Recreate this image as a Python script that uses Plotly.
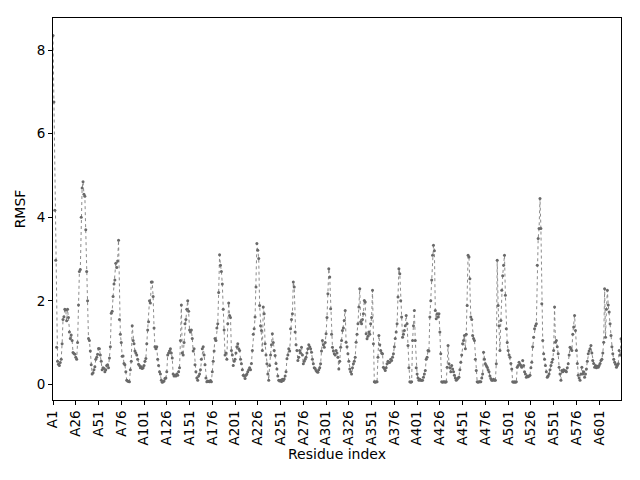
import plotly.graph_objects as go

# RMSF per residue (chain A)
rmsf = [
    8.35, 6.76, 4.17, 2.97, 0.89, 0.55, 0.48, 0.45, 0.52, 0.60,
    0.97, 1.55, 1.62, 1.80, 1.78, 1.52, 1.80, 1.60, 1.25, 1.10,
    1.18, 1.05, 0.76, 0.74, 0.72, 0.65, 0.60, 1.00, 1.90, 2.70,
    2.75, 4.00, 4.70, 4.85, 4.55, 4.50, 3.70, 2.70, 2.00, 1.10,
    1.05, 0.80, 0.47, 0.25, 0.28, 0.35, 0.42, 0.60, 0.65, 0.72,
    0.86, 0.85, 0.70, 0.55, 0.35, 0.40, 0.38, 0.30, 0.35, 0.45,
    0.47, 0.40, 0.63, 0.90, 1.70, 1.75, 2.10, 2.40, 2.50, 2.90,
    2.80, 2.95, 3.45, 1.55, 1.20, 1.00, 0.67, 0.68, 0.50, 0.47,
    0.30, 0.10, 0.08, 0.07, 0.06, 0.35, 0.55, 1.40, 1.05, 0.97,
    0.80, 0.75, 0.70, 0.60, 0.48, 0.45, 0.40, 0.42, 0.38, 0.40,
    0.45, 0.55, 0.62, 0.97, 1.30, 1.50, 2.00, 1.95, 2.45, 2.45,
    2.10, 1.35, 0.90, 0.85, 0.90, 0.60, 0.45, 0.30, 0.25, 0.10,
    0.05, 0.06, 0.08, 0.14, 0.15, 0.30, 0.70, 0.75, 0.80, 0.85,
    0.75, 0.63, 0.25, 0.20, 0.22, 0.20, 0.25, 0.22, 0.30, 0.40,
    1.05, 1.90, 0.75, 0.70, 1.00, 1.45, 1.55, 1.80, 2.00, 1.75,
    1.30, 1.25, 1.30, 1.10, 0.80, 0.85, 0.47, 0.30, 0.15, 0.10,
    0.20, 0.25, 0.35, 0.60, 0.85, 0.90, 0.70, 0.47, 0.15, 0.06,
    0.08, 0.07, 0.06, 0.09, 0.06, 0.30, 0.55, 0.80, 1.10, 1.05,
    1.35, 1.45, 2.20, 3.10, 2.85, 2.70, 2.40, 1.80, 1.30, 0.70,
    0.75, 0.60, 1.45, 1.95, 1.65, 1.60, 0.81, 0.70, 0.45, 0.55,
    0.60, 0.75, 0.90, 0.97, 0.85, 0.81, 0.60, 0.49, 0.35, 0.22,
    0.20, 0.14, 0.22, 0.25, 0.30, 0.35, 0.40, 0.35, 0.50, 0.81,
    1.20, 1.33, 1.61, 2.33, 3.37, 3.21, 3.01, 1.89, 1.40, 1.29,
    0.81, 1.85, 1.69, 0.97, 0.70, 0.49, 0.25, 0.10, 0.45, 0.70,
    0.95, 1.21, 1.00, 0.81, 0.69, 0.50, 0.37, 0.20, 0.10, 0.08,
    0.10, 0.07, 0.12, 0.09, 0.13, 0.20, 0.30, 0.61, 0.70, 0.85,
    0.80, 1.33, 1.55, 1.69, 2.45, 2.33, 1.25, 0.95, 0.81, 0.57,
    0.65, 0.81, 0.75, 0.89, 0.70, 0.49, 0.55, 0.60, 0.65, 0.75,
    0.85, 0.95, 0.90, 0.85, 0.77, 0.60, 0.49, 0.40, 0.38, 0.33,
    0.30, 0.29, 0.35, 0.40, 0.49, 0.80, 1.05, 0.95, 0.89, 1.00,
    1.21, 1.60, 2.17, 2.77, 2.57, 1.81, 1.20, 0.89, 0.80, 0.73,
    0.70, 0.81, 0.75, 0.65, 0.37, 0.55, 0.89, 1.05, 1.29, 1.35,
    1.53, 1.77, 1.01, 0.90, 0.73, 0.55, 0.37, 0.30, 0.25, 0.40,
    0.49, 0.55, 0.65, 1.01, 1.20, 1.45, 1.85, 2.29, 1.50, 1.45,
    1.55, 1.69, 2.01, 1.97, 1.21, 1.09, 1.15, 1.25, 1.20, 1.45,
    1.60, 2.25, 0.97, 0.06, 0.05, 0.06, 0.06, 0.65, 1.17, 0.95,
    0.81, 0.75, 0.73, 0.41, 0.38, 0.33, 0.40, 0.49, 0.55, 0.52,
    0.53, 0.60, 0.57, 0.65, 0.73, 0.90, 1.10, 1.25, 1.45, 2.09,
    2.77, 2.65, 2.00, 1.61, 1.13, 1.20, 1.29, 1.40, 1.65, 1.45,
    0.93, 0.40, 0.06, 0.05, 0.06, 1.05, 1.40, 1.77, 1.05, 0.40,
    0.25, 0.15, 0.10, 0.12, 0.10, 0.10, 0.10, 0.17, 0.25, 0.33,
    0.60, 0.65, 0.81, 0.80, 1.61, 2.00, 2.50, 3.09, 3.33, 3.20,
    1.77, 1.57, 1.69, 1.61, 1.69, 1.25, 0.73, 0.06, 0.05, 0.06,
    0.06, 0.05, 0.06, 0.41, 0.93, 0.49, 0.40, 0.30, 0.45, 0.37,
    0.30, 0.22, 0.15, 0.10, 0.12, 0.15, 0.17, 0.35, 0.53, 0.70,
    0.97, 1.05, 1.17, 0.85, 1.20, 1.89, 3.09, 3.05, 2.53, 1.61,
    1.55, 1.17, 1.10, 1.05, 0.60, 0.33, 0.06, 0.05, 0.06, 0.06,
    0.06, 0.15, 0.25, 0.77, 0.60, 0.49, 0.45, 0.41, 0.35, 0.30,
    0.20, 0.14, 0.10, 0.10, 0.12, 0.10, 0.10, 0.49, 2.97, 1.89,
    1.40, 0.81, 1.53, 2.25, 2.60, 2.85, 3.09, 2.13, 1.33, 1.00,
    0.81, 0.70, 0.65, 0.50, 0.37, 0.06, 0.05, 0.06, 0.05, 0.06,
    0.41, 0.45, 0.53, 0.48, 0.45, 0.41, 0.57, 0.45, 0.30, 0.25,
    0.17, 0.20, 0.18, 0.20, 0.22, 0.40, 0.53, 0.90, 1.13, 1.33,
    1.40, 1.45, 2.85, 3.49, 3.73, 4.45, 3.73, 1.93, 1.05, 0.73,
    0.60, 0.45, 0.30, 0.17, 0.20, 0.25, 0.35, 0.45, 0.53, 0.60,
    0.81, 1.85, 1.01, 1.05, 0.90, 0.73, 0.41, 0.25, 0.10, 0.33,
    0.30, 0.35, 0.33, 0.32, 0.30, 0.40, 0.49, 0.70, 0.89, 0.85,
    0.81, 1.20, 1.37, 1.65, 1.29, 0.81, 0.50, 0.22, 0.15, 0.10,
    0.25, 0.41, 0.25, 0.30, 0.17, 0.25, 0.37, 0.55, 0.73, 0.80,
    0.85, 0.93, 0.75, 0.57, 0.50, 0.41, 0.45, 0.40, 0.43, 0.41,
    0.45, 0.50, 0.57, 0.60, 0.75, 1.01, 2.29, 1.13, 1.80, 2.25,
    1.90, 1.73, 1.45, 1.17, 0.90, 0.73, 0.60, 0.53, 0.48, 0.41,
    0.45, 0.49, 0.81, 0.70, 1.09,
]
chain = "A"
residues = [f"{chain}{i + 1}" for i in range(len(rmsf))]
tick_labels = ["A1", "A26", "A51", "A76", "A101", "A126", "A151", "A176", "A201",
               "A226", "A251", "A276", "A301", "A326", "A351", "A376", "A401",
               "A426", "A451", "A476", "A501", "A526", "A551", "A576", "A601"]

font = dict(family="DejaVu Sans", size=13.5, color="black")

fig = go.Figure()
fig.add_trace(go.Scatter(
    x=residues,
    y=rmsf,
    mode="lines+markers",
    line=dict(color="#7f7f7f", width=0.9, dash="dot"),
    marker=dict(color="dimgray", size=3),
    showlegend=False
))

# page body has an 8px margin, so the figure is shifted a bit to line up
fig.update_layout(
    width=640,
    height=480,
    margin=dict(l=45, r=27, t=10, b=88),
    paper_bgcolor="white",
    plot_bgcolor="white",
    font=font,
    xaxis=dict(
        type="category",
        range=[0, len(rmsf) - 1],
        tickmode="array",
        tickvals=tick_labels,
        ticktext=tick_labels,
        tickangle=-90,
        ticks="outside",
        ticklen=4,
        tickcolor="black",
        showline=True,
        linecolor="black",
        linewidth=1,
        mirror=True,
        showgrid=False,
        zeroline=False,
        title=dict(text="Residue index", standoff=4, font=dict(size=14)),
        tickfont=dict(size=13.5),
    ),
    yaxis=dict(
        range=[-0.375, 8.77],
        tickvals=[0, 2, 4, 6, 8],
        ticks="outside",
        ticklen=4,
        tickcolor="black",
        showline=True,
        linecolor="black",
        linewidth=1,
        mirror=True,
        showgrid=False,
        zeroline=False,
        title=dict(text="RMSF", standoff=7, font=dict(size=14)),
        tickfont=dict(size=13.5),
    ),
)

fig.write_html("out.html")
